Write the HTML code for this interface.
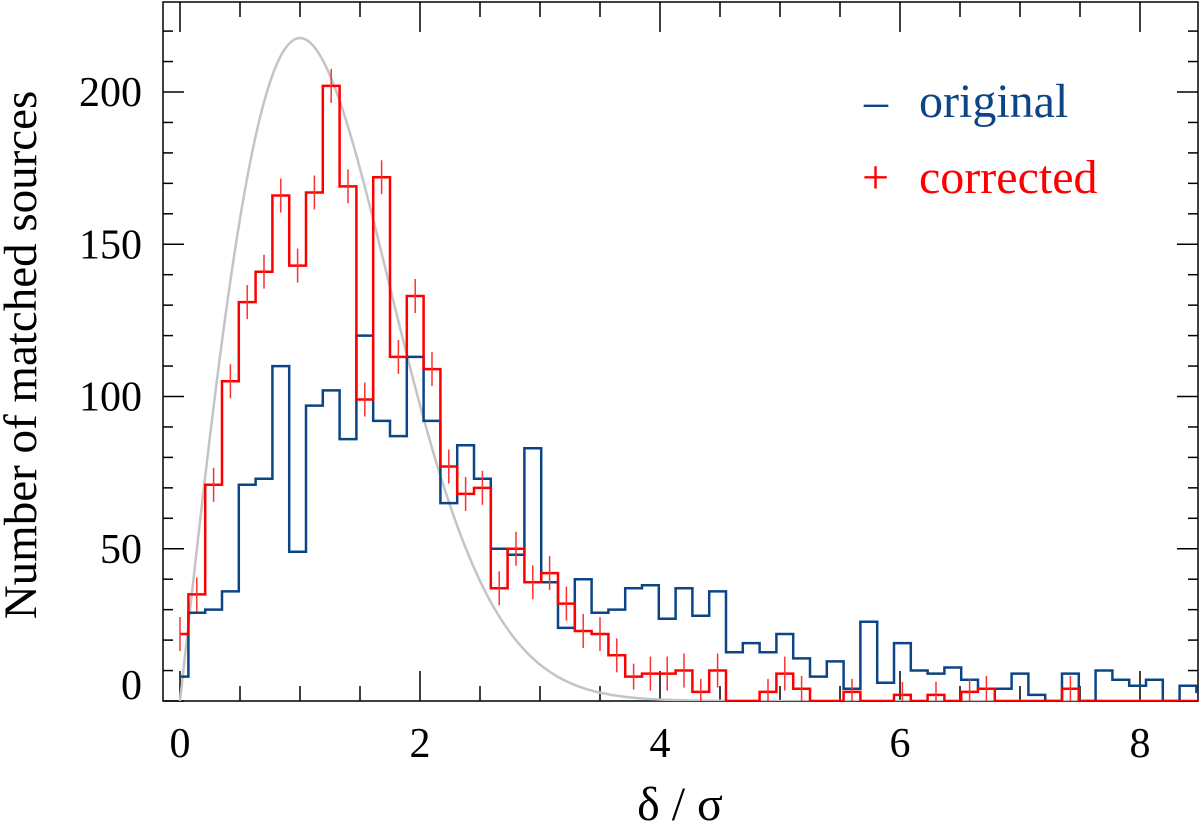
<!DOCTYPE html>
<html><head><meta charset="utf-8"><style>
html,body{margin:0;padding:0;background:#fff;}
svg{display:block;font-family:"Liberation Serif",serif;}
</style></head><body>
<svg id="chart" width="1200" height="835" viewBox="0 0 1200 835" xmlns="http://www.w3.org/2000/svg">
<g id="axes"></g>
<g id="marks"></g>
<text x="0" y="0" transform="translate(36,355) rotate(-90)" text-anchor="middle" font-size="47" fill="#000">Number of matched sources</text>
<text x="680" y="820" text-anchor="middle" font-size="48" fill="#000">δ / σ</text>
<g>
<text x="864" y="117" font-size="48" fill="#0b4585">–</text>
<text x="919" y="117" font-size="48" fill="#0b4585">original</text>
<text x="862" y="193" font-size="48" fill="#ff0000">+</text>
<text x="919" y="193" font-size="48" fill="#ff0000">corrected</text>
</g>
</svg>
<script>
const binWidth = 0.14;
const originalCounts = [8,29,30,36,71,73,110,49,97,102,86,120,92,87,113,92,65,84,73,50,48,83,39,24,40,29,30,37,38,27,37,28,36,16,19,16,22,14,8,13,4,26,6,19,10,9,11,7,4,4,9,2,0,9,0,10,7,5,7,0,5,3];
const correctedCounts = [22,35,71,105,131,141,166,143,167,202,169,99,172,113,133,109,77,68,70,37,50,39,42,32,23,22,15,8,9,9,10,3,10,0,0,3,9,4,0,0,3,0,0,2,0,2,0,3,4,0,0,0,0,4,0,0,0,0,0,0,0,0];
const xTicks = [0,2,4,6,8];
const yTicks = [0,50,100,150,200];
const curveAmp = 359;

const L=163,R=1198,T=2,B=701;
const X=v=>180+v*120;
const Y=v=>B-v*3.045;
const NS='http://www.w3.org/2000/svg';
function mk(tag,attrs,parent){const e=document.createElementNS(NS,tag);for(const k in attrs)e.setAttribute(k,attrs[k]);parent.appendChild(e);return e;}
const axes=document.getElementById('axes'), marks=document.getElementById('marks');

const defs=mk('defs',{},marks);
const cp=mk('clipPath',{id:'clip'},defs);
mk('rect',{x:L,y:T,width:R-L,height:B-T},cp);
const g=mk('g',{'clip-path':'url(#clip)'},marks);

let d='';
for(let i=0;i<=300;i++){const x=i*0.03;const v=curveAmp*x*Math.exp(-x*x/2);d+=(i?'L':'M')+X(x).toFixed(1)+','+Y(v).toFixed(1);}
const cur=mk('path',{d:d,fill:'none',stroke:'#c4c4c4','stroke-width':2.5},g);



function stepPath(arr){
  let p='';
  arr.forEach((v,k)=>{
    const x0=Math.max(0,(k-0.5)*binWidth), x1=(k+0.5)*binWidth;
    p+=(k?'L':'M')+X(x0).toFixed(1)+','+Y(v).toFixed(1)+'L'+X(x1).toFixed(1)+','+Y(v).toFixed(1);
  });
  return p;
}
const bp=mk('path',{d:stepPath(originalCounts),fill:'none',stroke:'#0b4585','stroke-width':2.5},g);


const rp=mk('path',{d:stepPath(correctedCounts),fill:'none',stroke:'#ff0000','stroke-width':2.5},g);


correctedCounts.forEach((v,k)=>{
  if(v<=0)return;
  const h=v>=9?17:13;
  const e=mk('line',{x1:X(k*binWidth),x2:X(k*binWidth),y1:Y(v)-h,y2:Y(v)+h,stroke:'#ff3030','stroke-width':1.5},g);
  
  
});

const fr=mk('rect',{x:L,y:T,width:R-L,height:B-T,fill:'none',stroke:'#000','stroke-width':1.5},axes);


for(let v=0;v<=8.4;v+=0.5){
  const maj=Math.abs(v%2)<1e-6, len=maj?30:15;
  mk('line',{x1:X(v),x2:X(v),y1:B,y2:B-len,stroke:'#000','stroke-width':1.5},axes);
  mk('line',{x1:X(v),x2:X(v),y1:T,y2:T+len,stroke:'#000','stroke-width':1.5},axes);
}
xTicks.forEach(v=>{
  const t=mk('text',{x:X(v),y:757,'text-anchor':'middle','font-size':42,fill:'#000'},axes);
  t.textContent=v;
  
  
});
for(let v=0;v<=225;v+=10){
  const maj=v%50===0, len=maj?21:10;
  mk('line',{x1:L,x2:L+len,y1:Y(v),y2:Y(v),stroke:'#000','stroke-width':1.5},axes);
  mk('line',{x1:R,x2:R-len,y1:Y(v),y2:Y(v),stroke:'#000','stroke-width':1.5},axes);
}
yTicks.forEach(v=>{
  const t=mk('text',{x:142,y:v===0?Y(v)-2:Y(v)+14,'text-anchor':'end','font-size':42,fill:'#000'},axes);
  t.textContent=v;
  
  
});
</script>
</body></html>
